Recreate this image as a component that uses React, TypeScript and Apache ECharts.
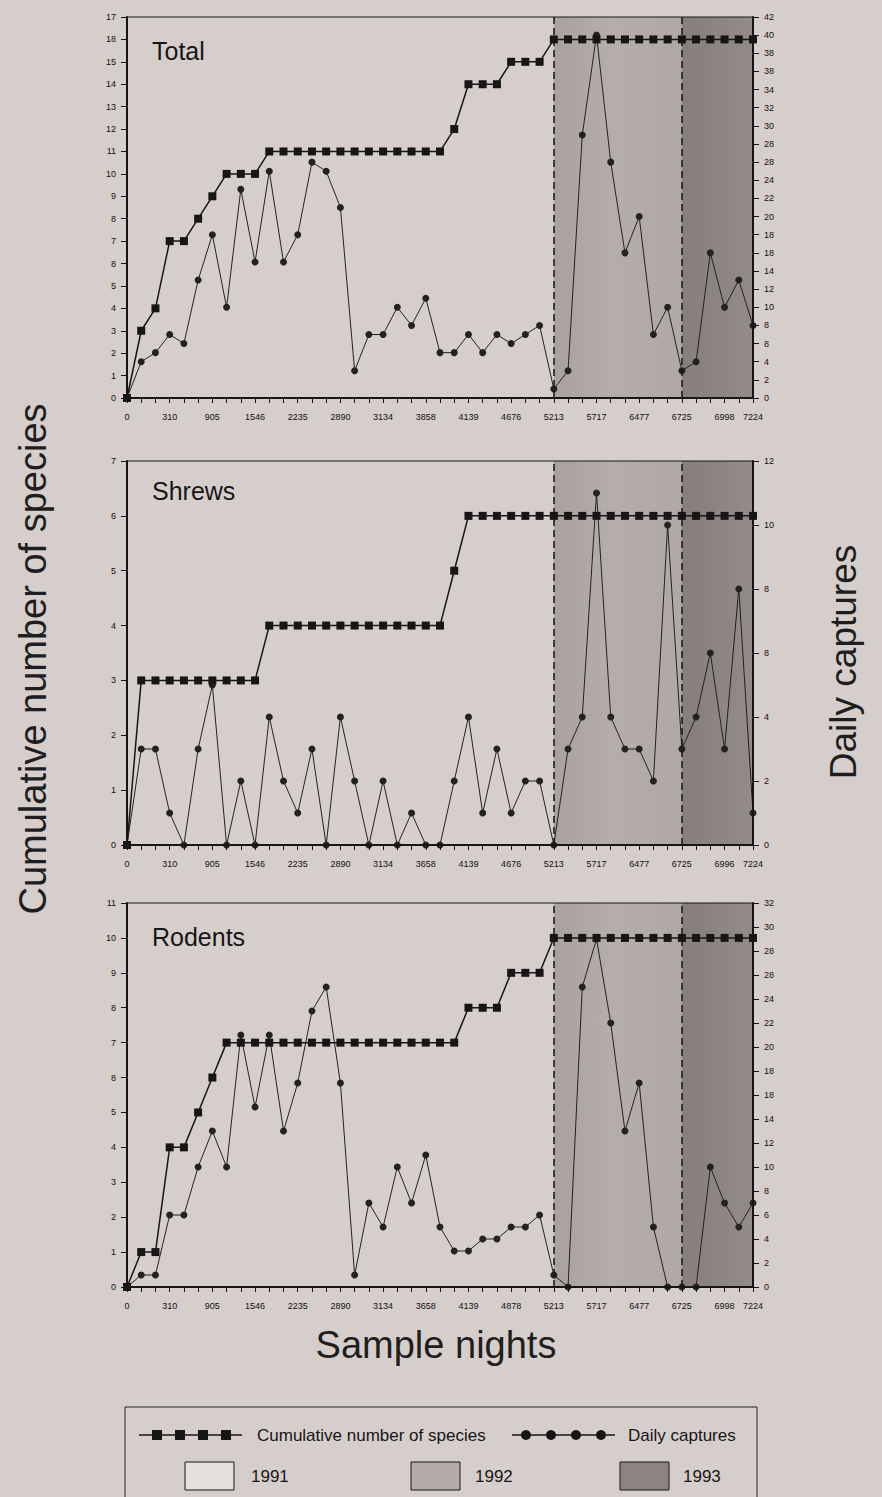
import React, { useEffect, useRef } from "react";
import * as echarts from "echarts";

// Positions (point index) at which the sample-night tick labels are printed
const labelPositions = [0, 3, 6, 9, 12, 15, 18, 21, 24, 27, 30, 33, 36, 39, 42, 44];

// Tick labels as printed under each panel
const totalNightTicks = ["0", "310", "905", "1546", "2235", "2890", "3134", "3858", "4139", "4676", "5213", "5717", "6477", "6725", "6998", "7224"];
const shrewNightTicks = ["0", "310", "905", "1546", "2235", "2890", "3134", "3658", "4139", "4676", "5213", "5717", "6477", "6725", "6996", "7224"];
const rodentNightTicks = ["0", "310", "905", "1546", "2235", "2890", "3134", "3658", "4139", "4878", "5213", "5717", "6477", "6725", "6998", "7224"];

// Left (cumulative) and right (daily) axis tick labels as printed
const totalLeftTicks = ["0", "1", "2", "3", "4", "5", "8", "7", "8", "9", "10", "11", "12", "13", "14", "15", "18", "17"];
const totalRightTicks = ["0", "2", "4", "8", "8", "10", "12", "14", "18", "18", "20", "22", "24", "28", "28", "30", "32", "34", "38", "38", "40", "42"];
const shrewLeftTicks = ["0", "1", "2", "3", "4", "5", "6", "7"];
const shrewRightTicks = ["0", "2", "4", "8", "8", "10", "12"];
const rodentLeftTicks = ["0", "1", "2", "3", "4", "5", "8", "7", "8", "9", "10", "11"];
const rodentRightTicks = ["0", "2", "4", "6", "8", "10", "12", "14", "18", "18", "20", "22", "24", "28", "28", "30", "32"];

// Series values
const totalCumulative = [0, 3, 4, 7, 7, 8, 9, 10, 10, 10, 11, 11, 11, 11, 11, 11, 11, 11, 11, 11, 11, 11, 11, 12, 14, 14, 14, 15, 15, 15, 16, 16, 16, 16, 16, 16, 16, 16, 16, 16, 16, 16, 16, 16, 16];
const totalDaily = [0, 4, 5, 7, 6, 13, 18, 10, 23, 15, 25, 15, 18, 26, 25, 21, 3, 7, 7, 10, 8, 11, 5, 5, 7, 5, 7, 6, 7, 8, 1, 3, 29, 40, 26, 16, 20, 7, 10, 3, 4, 16, 10, 13, 8];
const shrewCumulative = [0, 3, 3, 3, 3, 3, 3, 3, 3, 3, 4, 4, 4, 4, 4, 4, 4, 4, 4, 4, 4, 4, 4, 5, 6, 6, 6, 6, 6, 6, 6, 6, 6, 6, 6, 6, 6, 6, 6, 6, 6, 6, 6, 6, 6];
const shrewDaily = [0, 3, 3, 1, 0, 3, 5, 0, 2, 0, 4, 2, 1, 3, 0, 4, 2, 0, 2, 0, 1, 0, 0, 2, 4, 1, 3, 1, 2, 2, 0, 3, 4, 11, 4, 3, 3, 2, 10, 3, 4, 6, 3, 8, 1];
const rodentCumulative = [0, 1, 1, 4, 4, 5, 6, 7, 7, 7, 7, 7, 7, 7, 7, 7, 7, 7, 7, 7, 7, 7, 7, 7, 8, 8, 8, 9, 9, 9, 10, 10, 10, 10, 10, 10, 10, 10, 10, 10, 10, 10, 10, 10, 10];
const rodentDaily = [0, 1, 1, 6, 6, 10, 13, 10, 21, 15, 21, 13, 17, 23, 25, 17, 1, 7, 5, 10, 7, 11, 5, 3, 3, 4, 4, 5, 5, 6, 1, 0, 25, 29, 22, 13, 17, 5, 0, 0, 0, 10, 7, 5, 7];

// Point index where each sampling year starts / ends
const yearStarts = [0, 30, 39];
const lastPoint = 44;
const years = ["1991", "1992", "1993"];

const FONT = '"Liberation Sans", Arial, sans-serif';
const INK = "#161616";
const BG = "#d6cecb";

function buildCategories(ticks: string[], count: number): string[] {
  const cats: string[] = new Array(count).fill("");
  labelPositions.forEach((pos, k) => {
    cats[pos] = ticks[k];
  });
  return cats;
}

const panels = [
  { title: "Total", top: 17, height: 381, titleTop: 33, nights: totalNightTicks, cum: totalCumulative, daily: totalDaily, leftMax: 17, rightMax: 42, leftTicks: totalLeftTicks, rightTicks: totalRightTicks },
  { title: "Shrews", top: 461, height: 384, titleTop: 473, nights: shrewNightTicks, cum: shrewCumulative, daily: shrewDaily, leftMax: 7, rightMax: 12, leftTicks: shrewLeftTicks, rightTicks: shrewRightTicks },
  { title: "Rodents", top: 903, height: 384, titleTop: 919, nights: rodentNightTicks, cum: rodentCumulative, daily: rodentDaily, leftMax: 11, rightMax: 32, leftTicks: rodentLeftTicks, rightTicks: rodentRightTicks },
];

function buildOption() {
  const shade1992 = new echarts.graphic.LinearGradient(0, 0, 1, 0, [
    { offset: 0, color: "#a9a19e" },
    { offset: 0.45, color: "#b5adaa" },
    { offset: 1, color: "#b0a8a5" },
  ]);
  const shade1993 = new echarts.graphic.LinearGradient(0, 0, 1, 0, [
    { offset: 0, color: "#867e7b" },
    { offset: 0.6, color: "#8e8683" },
    { offset: 1, color: "#938b88" },
  ]);

  const grid = panels.map((p) => ({
    left: 127,
    top: p.top,
    width: 626,
    height: p.height,
    show: true,
    z: 10,
    backgroundColor: "transparent",
    borderColor: INK,
    borderWidth: 1,
  }));

  const xAxis = panels.map((p, i) => ({
    type: "category",
    gridIndex: i,
    data: buildCategories(p.nights, p.cum.length),
    boundaryGap: false,
    axisLine: { show: true, lineStyle: { color: INK, width: 2 } },
    axisTick: { show: true, interval: 0, length: 5, lineStyle: { color: INK, width: 1 } },
    axisLabel: { interval: 0, margin: 14, fontSize: 9, color: "#111", fontFamily: FONT },
    splitLine: { show: false },
    z: 11,
  }));

  const yAxis: any[] = [];
  panels.forEach((p, i) => {
    yAxis.push({
      type: "value",
      gridIndex: i,
      position: "left",
      min: 0,
      max: p.leftMax,
      interval: 1,
      axisLine: { show: true, lineStyle: { color: INK, width: 2 } },
      axisTick: { show: true, length: 6, lineStyle: { color: INK, width: 1 } },
      axisLabel: { margin: 11, fontSize: 9, color: "#111", fontFamily: FONT, formatter: (v: number) => p.leftTicks[Math.round(v)] ?? "" },
      splitLine: { show: false },
      z: 11,
    });
    yAxis.push({
      type: "value",
      gridIndex: i,
      position: "right",
      min: 0,
      max: p.rightMax,
      interval: 2,
      axisLine: { show: true, lineStyle: { color: INK, width: 2 } },
      axisTick: { show: true, length: 6, lineStyle: { color: INK, width: 1 } },
      axisLabel: { margin: 11, fontSize: 9, color: "#111", fontFamily: FONT, formatter: (v: number) => p.rightTicks[Math.round(v / 2)] ?? "" },
      splitLine: { show: false },
      z: 11,
    });
  });

  const series: any[] = [];
  panels.forEach((p, i) => {
    series.push({
      name: "Cumulative number of species",
      type: "line",
      xAxisIndex: i,
      yAxisIndex: 2 * i,
      data: p.cum,
      symbol: "rect",
      symbolSize: 8,
      showAllSymbol: true,
      lineStyle: { color: INK, width: 1.5 },
      itemStyle: { color: INK },
      z: 4,
      markArea: {
        silent: true,
        z: 1,
        data: [
          [{ xAxis: yearStarts[1], itemStyle: { color: shade1992 } }, { xAxis: yearStarts[2] }],
          [{ xAxis: yearStarts[2], itemStyle: { color: shade1993 } }, { xAxis: lastPoint }],
        ],
      },
      markLine: {
        silent: true,
        symbol: "none",
        label: { show: false },
        lineStyle: { color: INK, type: [7, 4], width: 1.5 },
        data: [{ xAxis: yearStarts[1] }, { xAxis: yearStarts[2] }],
      },
    });
    series.push({
      name: "Daily captures",
      type: "line",
      xAxisIndex: i,
      yAxisIndex: 2 * i + 1,
      data: p.daily,
      symbol: "circle",
      symbolSize: 7,
      showAllSymbol: true,
      lineStyle: { color: "#222", width: 1 },
      itemStyle: { color: "#222" },
      z: 3,
    });
  });

  const title = panels.map((p) => ({
    text: p.title,
    left: 147,
    top: p.titleTop,
    textStyle: { fontSize: 25, fontWeight: "normal", color: INK, fontFamily: FONT },
  }));

  const legendY1 = 1435;
  const legendY2 = 1476;
  const squareXs = [157, 180, 203, 226];
  const circleXs = [526, 551, 576, 601];
  const yearBoxes = [
    { x: 185, fill: "#e6e0dd", label: 251 },
    { x: 411, fill: "#b3aba8", label: 475 },
    { x: 620, fill: "#8c8481", label: 683 },
  ];

  const graphic: any[] = [
    {
      type: "text",
      x: 33,
      y: 659,
      rotation: Math.PI / 2,
      style: { text: "Cumulative number of species", fontSize: 38, fontFamily: FONT, fill: "#1e1e1e", textAlign: "center", textVerticalAlign: "middle" },
    },
    {
      type: "text",
      x: 843,
      y: 662,
      rotation: Math.PI / 2,
      style: { text: "Daily captures", fontSize: 37, fontFamily: FONT, fill: "#1e1e1e", textAlign: "center", textVerticalAlign: "middle" },
    },
    {
      type: "text",
      x: 436,
      y: 1345,
      style: { text: "Sample nights", fontSize: 38, fontFamily: FONT, fill: "#1e1e1e", textAlign: "center", textVerticalAlign: "middle" },
    },
    {
      type: "rect",
      shape: { x: 125, y: 1407, width: 632, height: 100 },
      style: { fill: "none", stroke: "#222", lineWidth: 1 },
    },
    { type: "line", shape: { x1: 139, y1: legendY1, x2: 242, y2: legendY1 }, style: { stroke: INK, lineWidth: 1.5 } },
    ...squareXs.map((x) => ({ type: "rect", shape: { x: x - 5, y: legendY1 - 5, width: 10, height: 10 }, style: { fill: INK } })),
    { type: "text", x: 257, y: legendY1, style: { text: "Cumulative number of species", fontSize: 17, fontFamily: FONT, fill: INK, textVerticalAlign: "middle" } },
    { type: "line", shape: { x1: 512, y1: legendY1, x2: 615, y2: legendY1 }, style: { stroke: INK, lineWidth: 1.5 } },
    ...circleXs.map((x) => ({ type: "circle", shape: { cx: x, cy: legendY1, r: 5 }, style: { fill: INK } })),
    { type: "text", x: 628, y: legendY1, style: { text: "Daily captures", fontSize: 17, fontFamily: FONT, fill: INK, textVerticalAlign: "middle" } },
    ...yearBoxes.flatMap((b, k) => [
      { type: "rect", shape: { x: b.x, y: legendY2 - 14, width: 49, height: 28 }, style: { fill: b.fill, stroke: INK, lineWidth: 1 } },
      { type: "text", x: b.label, y: legendY2, style: { text: years[k], fontSize: 17, fontFamily: FONT, fill: INK, textVerticalAlign: "middle" } },
    ]),
  ];

  return {
    animation: false,
    backgroundColor: BG,
    textStyle: { fontFamily: FONT },
    title,
    grid,
    xAxis,
    yAxis,
    series,
    graphic,
  };
}

export default function App() {
  const ref = useRef<HTMLDivElement>(null);
  useEffect(() => {
    if (!ref.current) return;
    const chart = echarts.init(ref.current, null, { renderer: "svg" });
    chart.setOption(buildOption() as any);
    return () => chart.dispose();
  }, []);
  return <div ref={ref} style={{ position: "absolute", left: 0, top: 0, width: 882, height: 1497 }} />;
}
